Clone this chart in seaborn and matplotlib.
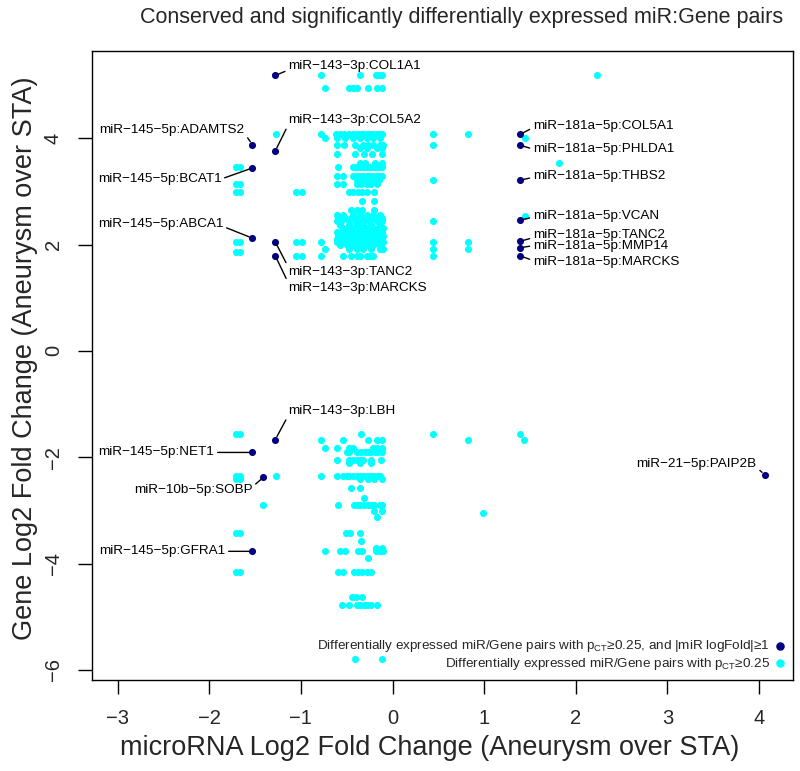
import matplotlib
matplotlib.use("Agg")
import matplotlib.pyplot as plt
import pandas as pd
import seaborn as sns

# ---------------- text ----------------
title = "Conserved and significantly differentially expressed miR:Gene pairs"
x_label = "microRNA Log2 Fold Change (Aneurysm over STA)"
y_label = "Gene Log2 Fold Change (Aneurysm over STA)"
x_ticks = [-3, -2, -1, 0, 1, 2, 3, 4]
y_ticks = [-6, -4, -2, 0, 2, 4]
legend_labels = [
    "Differentially expressed miR/Gene pairs with p$_{CT}$\u22650.25, and |miR logFold|\u22651",
    "Differentially expressed miR/Gene pairs with p$_{CT}$\u22650.25",
]

# ---------------- labelled pairs (|miR logFold| >= 1) ----------------
navy_labels = [
    "miR\u2212143\u22123p:COL1A1", "miR\u2212145\u22125p:ADAMTS2", "miR\u2212143\u22123p:COL5A2",
    "miR\u2212145\u22125p:BCAT1", "miR\u2212145\u22125p:ABCA1", "miR\u2212143\u22123p:TANC2",
    "miR\u2212143\u22123p:MARCKS", "miR\u2212181a\u22125p:COL5A1", "miR\u2212181a\u22125p:PHLDA1",
    "miR\u2212181a\u22125p:THBS2", "miR\u2212181a\u22125p:VCAN", "miR\u2212181a\u22125p:TANC2",
    "miR\u2212181a\u22125p:MMP14", "miR\u2212181a\u22125p:MARCKS", "miR\u2212143\u22123p:LBH",
    "miR\u2212145\u22125p:NET1", "miR\u221210b\u22125p:SOBP", "miR\u2212145\u22125p:GFRA1",
    "miR\u221221\u22125p:PAIP2B",
]
navy_mir_fc = [-1.28, -1.53, -1.28, -1.53, -1.53, -1.28, -1.28, 1.39, 1.39, 1.39,
               1.39, 1.39, 1.39, 1.39, -1.28, -1.53, -1.41, -1.53, 4.06]
navy_gene_fc = [5.18, 3.88, 3.76, 3.44, 2.12, 2.05, 1.79, 4.07, 3.87, 3.21,
                2.46, 2.06, 1.94, 1.79, -1.67, -1.91, -2.38, -3.77, -2.33]

# label placement (pixel offsets from the point, text side, leader anchor on text)
label_dx = [13, -8, 13, -31, -29, 13, 13, 13, 13, 13, 13, 13, 13, 13, 13, -38, -11, -27, -8]
label_dy = [9, 15, 31, -11, 14, -30, -32, 8, -4, 4, 4, 6, 2, -6, 29, 0, -13, 0, 11]
label_ha = ["left", "right", "left", "right", "right", "left", "left", "left", "left",
            "left", "left", "left", "left", "left", "left", "right", "right", "right", "right"]
label_rely = [0.2, 0.2, 0.1, 0.5, 0.3, 0.9, 0.9, 0.4, 0.5, 0.4, 0.4, 0.3, 0.5, 0.6,
              0.1, 0.5, 0.8, 0.5, 0.2]

# ---------------- other pairs (p_CT >= 0.25) ----------------
cyan_gene_levels = [
    5.18, 4.95, 4.07, 4.00, 3.88, 3.82, 3.70, 3.54, 3.45, 3.28, 3.21, 3.14, 2.98,
    2.81, 2.65, 2.56, 2.54, 2.50, 2.44, 2.37, 2.31, 2.23, 2.16, 2.10, 2.05, 1.99,
    1.92, 1.86, 1.79,
    -1.57, -1.67, -1.83, -1.91, -2.05, -2.11, -2.36, -2.41, -2.57, -2.76, -2.90,
    -3.02, -3.05, -3.13, -3.43, -3.57, -3.70, -3.77, -3.89, -4.16, -4.62, -4.78, -5.79,
]
cyan_mir_by_level = [
    [-0.78, -0.36, -0.18, -0.15, -0.11, 2.23],
    [-0.74, -0.47, -0.43, -0.39, -0.27, -0.17, -0.12],
    [-1.27, -0.78, -0.62, -0.57, -0.53, -0.48, -0.43, -0.39, -0.36, -0.32, -0.28, -0.25,
     -0.21, -0.17, -0.14, -0.11, 0.44, 0.82],
    [-0.74, -0.61, -0.52, -0.43, -0.36, -0.28, -0.21, -0.14, 1.44],
    [-0.61, -0.53, -0.41, -0.32, -0.27, -0.21, -0.14, -0.10, 0.44],
    [-0.36, -0.28, -0.17, -0.12],
    [-0.61, -0.41, -0.31, -0.22, -0.11],
    [-0.36, -0.30, -0.19, -0.12, 1.82],
    [-1.71, -1.67, -0.59, -0.43, -0.40, -0.37, -0.34, -0.31, -0.28, -0.25, -0.22, -0.19,
     -0.16, -0.13, -0.11],
    [-0.61, -0.54, -0.43, -0.39, -0.35, -0.32, -0.28, -0.25, -0.21, -0.17, -0.14, -0.11],
    [-0.39, -0.34, -0.29, -0.24, -0.19, -0.15, 0.44],
    [-1.71, -1.67, -0.61, -0.54, -0.39, -0.34, -0.28, -0.23, -0.17],
    [-1.71, -1.67, -1.05, -0.99, -0.48, -0.43, -0.38, -0.33, -0.28, -0.20],
    [-0.33, -0.20],
    [-0.45, -0.39, -0.33, -0.20],
    [-0.61, -0.54, -0.43, -0.36, -0.28, -0.21, -0.14],
    [1.44],
    [-0.59, -0.52, -0.45, -0.39, -0.34, -0.28, -0.23, -0.17, -0.11],
    [-0.61, -0.56, -0.48, -0.41, -0.36, -0.31, -0.25, -0.17, -0.12, 0.44],
    [-0.57, -0.47, -0.39, -0.32, -0.23, -0.14],
    [-0.54, -0.48, -0.43, -0.38, -0.32, -0.27, -0.21, -0.16, -0.10],
    [-0.61, -0.56, -0.50, -0.45, -0.39, -0.34, -0.28, -0.23, -0.17, -0.12],
    [-0.59, -0.54, -0.48, -0.43, -0.38, -0.32, -0.27, -0.21, -0.16, -0.10],
    [-0.61, -0.56, -0.50, -0.45, -0.39, -0.34, -0.28, -0.23, -0.17, -0.12],
    [-1.71, -1.67, -1.05, -0.99, -0.78, -0.61, -0.57, -0.52, -0.47, -0.43, -0.39, -0.36,
     -0.32, -0.28, -0.25, -0.21, -0.17, -0.14, -0.10, 0.44, 0.82],
    [-0.57, -0.50, -0.43, -0.36, -0.28, -0.21, -0.14],
    [-0.74, -0.47, -0.39, -0.32, -0.23, -0.14, -0.10, 0.44, 0.82],
    [-1.71, -1.67],
    [-1.05, -0.99, -0.78, -0.54, -0.45, -0.39, -0.35, -0.28, -0.25, -0.21, 0.44],
    [-1.71, -1.67, -0.34, 0.44, 1.39],
    [-0.78, -0.54, -0.27, -0.17, -0.11, 0.82, 1.43],
    [-0.74, -0.61, -0.47, -0.43, -0.21, -0.17, -0.11],
    [-0.50, -0.47, -0.39, -0.34, -0.30, -0.27, -0.23, -0.19, -0.16, -0.11],
    [-0.61, -0.47, -0.43, -0.39, -0.36, -0.32, -0.23, -0.13],
    [-0.47, -0.36, -0.23],
    [-1.71, -1.67, -1.27, -0.78, -0.61, -0.54, -0.50, -0.47, -0.43, -0.39, -0.36, -0.32,
     -0.28, -0.25, -0.21, -0.17, -0.14],
    [-1.71, -1.67, -0.36, -0.27, -0.20, -0.11],
    [-0.45, -0.36],
    [-0.31],
    [-1.41, -0.59, -0.42, -0.39, -0.35, -0.31, -0.27, -0.23, -0.20, -0.14, -0.11],
    [-0.20, -0.11],
    [0.99],
    [-0.17],
    [-1.71, -1.67, -0.51, -0.46, -0.36],
    [-0.34],
    [-0.18, -0.11],
    [-0.74, -0.57, -0.52, -0.38, -0.33, -0.18, -0.14, -0.10],
    [-0.27],
    [-1.71, -1.67, -0.59, -0.54, -0.42, -0.38, -0.33, -0.28, -0.24],
    [-0.44, -0.40, -0.33],
    [-0.55, -0.48, -0.39, -0.35, -0.31, -0.28, -0.23, -0.17],
    [-0.41, -0.12],
]

cyan_df = pd.DataFrame(
    [(m, g) for g, ms in zip(cyan_gene_levels, cyan_mir_by_level) for m in ms],
    columns=["mir_fc", "gene_fc"],
)
navy_df = pd.DataFrame({"mir_fc": navy_mir_fc, "gene_fc": navy_gene_fc, "label": navy_labels})

# ---------------- style ----------------
sns.set_style("white")
plt.rcParams["font.family"] = ["Liberation Sans", "DejaVu Sans"]
plt.rcParams["mathtext.default"] = "regular"

CYAN = "#00FFFF"
NAVY = "#000080"

fig = plt.figure(figsize=(8.0, 7.71), dpi=100)
ax = fig.add_axes([92 / 800, 1 - 680 / 771, (793 - 92) / 800, (680 - 51) / 771])

sns.scatterplot(data=cyan_df, x="mir_fc", y="gene_fc", color=CYAN, s=26,
                linewidth=0, ax=ax, label=legend_labels[1], zorder=2)
sns.scatterplot(data=navy_df, x="mir_fc", y="gene_fc", color=NAVY, s=26,
                linewidth=0, ax=ax, label=legend_labels[0], zorder=3)

for i, row in navy_df.iterrows():
    ax.annotate(
        row["label"], xy=(row["mir_fc"], row["gene_fc"]),
        xytext=(label_dx[i], label_dy[i]), textcoords="offset pixels",
        ha=label_ha[i], va="center", fontsize=9.7, color="black",
        arrowprops=dict(arrowstyle="-", color="black", lw=1.0, shrinkA=0, shrinkB=2.5,
                        relpos=(0.0 if label_ha[i] == "left" else 1.0, label_rely[i])),
        zorder=4,
    )

ax.set_xlim(-3.28, 4.37)
ax.set_ylim(-6.19, 5.64)
ax.set_xticks(x_ticks)
ax.set_yticks(y_ticks)
ax.set_xticklabels([str(t).replace("-", "\u2212") for t in x_ticks])
ax.set_yticklabels([str(t).replace("-", "\u2212") for t in y_ticks], rotation=90, va="center")
ax.tick_params(axis="both", direction="out", length=10, width=1.0, color="black",
               labelsize=14.5, pad=11, bottom=True, left=True)
for sp in ax.spines.values():
    sp.set_color("black")
    sp.set_linewidth(1.0)

ax.set_xlabel(x_label, fontsize=19.5)
ax.set_ylabel(y_label, fontsize=19.5)
ax.xaxis.set_label_coords(0.481, -(748 - 680) / 629, transform=ax.transAxes)
ax.xaxis.label.set_va("center")
ax.yaxis.set_label_coords(-(92 - 25) / 701, 0.512, transform=ax.transAxes)
ax.yaxis.label.set_va("center")
fig.text(462 / 800, 1 - 18 / 771, title, ha="center", va="center", fontsize=15.5)

handles, labels = ax.get_legend_handles_labels()
order = [labels.index(legend_labels[0]), labels.index(legend_labels[1])]
ax.legend([handles[k] for k in order], [labels[k] for k in order],
          loc="lower right", markerfirst=False, frameon=False, fontsize=9.7,
          handletextpad=0.3, labelspacing=0.12, borderaxespad=0.2,
          handlelength=0.8, markerscale=1.2)

fig.savefig("out.png", dpi=100)
